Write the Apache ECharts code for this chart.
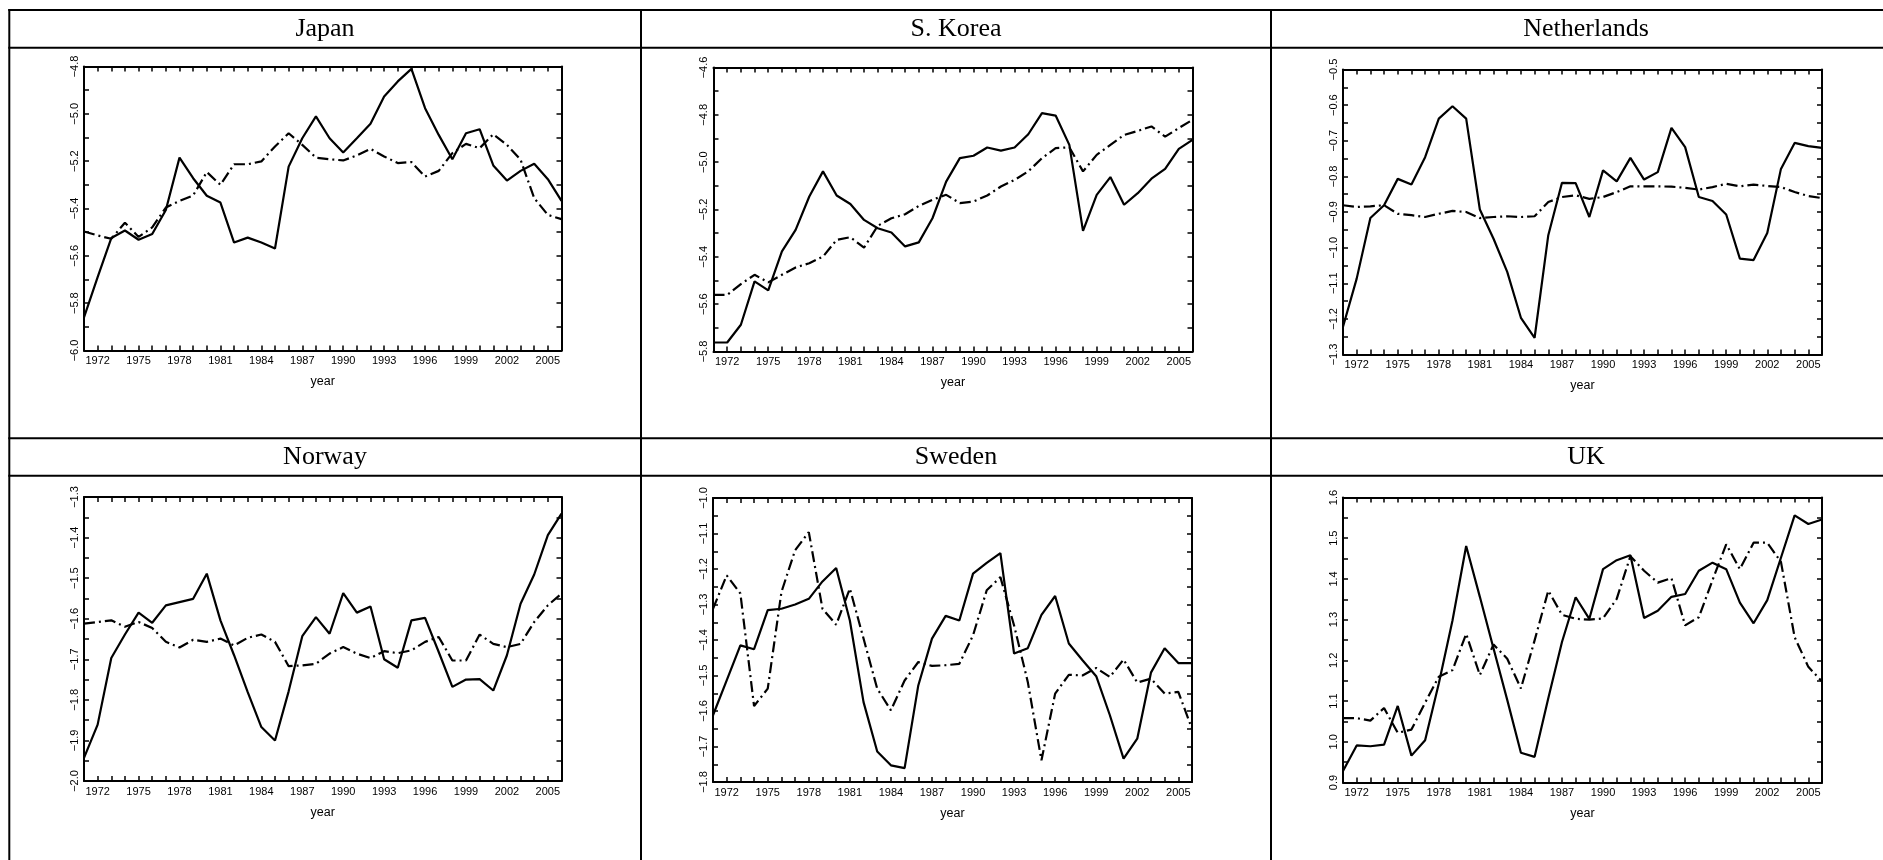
<!DOCTYPE html>
<html>
<head>
<meta charset="utf-8">
<script src="https://cdn.jsdelivr.net/npm/echarts@6/dist/echarts.min.js"></script>
<style>
html,body{margin:0;padding:0;background:#fff;}
#chart{width:1883px;height:860px;}
</style>
</head>
<body>
<div id="chart"></div>
<script>
// ---------- DATA ----------
const years = [1971,1972,1973,1974,1975,1976,1977,1978,1979,1980,1981,1982,1983,1984,1985,1986,1987,1988,1989,1990,1991,1992,1993,1994,1995,1996,1997,1998,1999,2000,2001,2002,2003,2004,2005,2006];
const xTickLabels = [1972,1975,1978,1981,1984,1987,1990,1993,1996,1999,2002,2005];
const panelTitles = ["Japan","S. Korea","Netherlands","Norway","Sweden","UK"];

const japanSolid = [-5.86,-5.69,-5.525,-5.493,-5.532,-5.508,-5.406,-5.185,-5.272,-5.346,-5.375,-5.544,-5.523,-5.544,-5.569,-5.223,-5.103,-5.011,-5.103,-5.163,-5.103,-5.042,-4.927,-4.863,-4.81,-4.976,-5.089,-5.192,-5.082,-5.065,-5.218,-5.282,-5.241,-5.211,-5.276,-5.368];
const japanDash  = [-5.497,-5.514,-5.528,-5.46,-5.52,-5.48,-5.396,-5.368,-5.345,-5.246,-5.30,-5.213,-5.213,-5.201,-5.138,-5.082,-5.131,-5.185,-5.192,-5.197,-5.176,-5.148,-5.18,-5.208,-5.204,-5.265,-5.241,-5.166,-5.127,-5.145,-5.086,-5.131,-5.194,-5.356,-5.427,-5.445];

const koreaSolid = [-5.762,-5.762,-5.687,-5.504,-5.542,-5.377,-5.286,-5.145,-5.039,-5.141,-5.177,-5.244,-5.279,-5.297,-5.356,-5.339,-5.237,-5.082,-4.983,-4.973,-4.938,-4.951,-4.938,-4.882,-4.793,-4.803,-4.927,-5.29,-5.138,-5.063,-5.18,-5.131,-5.07,-5.028,-4.944,-4.906];
const koreaDash  = [-5.561,-5.561,-5.515,-5.476,-5.508,-5.476,-5.445,-5.427,-5.399,-5.328,-5.317,-5.361,-5.269,-5.237,-5.22,-5.185,-5.159,-5.138,-5.173,-5.166,-5.141,-5.103,-5.075,-5.039,-4.983,-4.941,-4.937,-5.039,-4.969,-4.927,-4.885,-4.868,-4.849,-4.892,-4.856,-4.821];

const nethSolid = [-1.222,-1.087,-0.917,-0.881,-0.807,-0.823,-0.746,-0.638,-0.603,-0.638,-0.893,-0.975,-1.068,-1.197,-1.253,-0.965,-0.818,-0.819,-0.914,-0.783,-0.814,-0.748,-0.809,-0.788,-0.664,-0.718,-0.858,-0.869,-0.907,-1.031,-1.035,-0.959,-0.779,-0.706,-0.715,-0.72];
const nethDash  = [-0.881,-0.886,-0.884,-0.881,-0.905,-0.909,-0.914,-0.905,-0.897,-0.9,-0.917,-0.914,-0.912,-0.914,-0.912,-0.872,-0.858,-0.853,-0.863,-0.858,-0.844,-0.828,-0.828,-0.828,-0.829,-0.832,-0.837,-0.83,-0.821,-0.828,-0.823,-0.827,-0.83,-0.844,-0.855,-0.861];

const norwaySolid = [-1.943,-1.861,-1.697,-1.639,-1.585,-1.61,-1.567,-1.559,-1.551,-1.489,-1.604,-1.69,-1.781,-1.867,-1.9,-1.779,-1.643,-1.596,-1.637,-1.537,-1.585,-1.57,-1.70,-1.721,-1.604,-1.598,-1.682,-1.768,-1.75,-1.749,-1.777,-1.69,-1.563,-1.491,-1.394,-1.341];
const norwayDash  = [-1.612,-1.608,-1.604,-1.62,-1.608,-1.623,-1.657,-1.671,-1.652,-1.657,-1.649,-1.666,-1.647,-1.639,-1.657,-1.717,-1.715,-1.711,-1.686,-1.67,-1.686,-1.697,-1.68,-1.685,-1.678,-1.657,-1.645,-1.703,-1.703,-1.639,-1.662,-1.67,-1.662,-1.608,-1.567,-1.538];

const swedenSolid = [-1.612,-1.514,-1.415,-1.426,-1.316,-1.312,-1.30,-1.284,-1.235,-1.197,-1.345,-1.575,-1.714,-1.753,-1.761,-1.528,-1.396,-1.332,-1.345,-1.213,-1.183,-1.155,-1.438,-1.423,-1.329,-1.276,-1.41,-1.457,-1.502,-1.612,-1.734,-1.678,-1.492,-1.423,-1.465,-1.465];
const swedenDash  = [-1.312,-1.218,-1.269,-1.586,-1.537,-1.265,-1.147,-1.096,-1.312,-1.357,-1.255,-1.396,-1.537,-1.598,-1.514,-1.462,-1.473,-1.471,-1.467,-1.387,-1.26,-1.223,-1.359,-1.518,-1.739,-1.551,-1.498,-1.50,-1.479,-1.504,-1.455,-1.52,-1.509,-1.551,-1.546,-1.65];

const ukSolid = [0.928,0.991,0.989,0.993,1.088,0.966,1.004,1.143,1.298,1.481,1.356,1.229,1.103,0.973,0.963,1.107,1.245,1.355,1.302,1.424,1.446,1.458,1.304,1.322,1.356,1.363,1.42,1.44,1.424,1.342,1.291,1.348,1.452,1.556,1.535,1.546];
const ukDash  = [1.058,1.058,1.052,1.083,1.022,1.03,1.096,1.16,1.176,1.265,1.164,1.239,1.204,1.131,1.249,1.371,1.312,1.302,1.30,1.303,1.351,1.456,1.42,1.391,1.402,1.286,1.306,1.397,1.485,1.424,1.489,1.489,1.442,1.257,1.184,1.148];

// y-axis ranges: [min, max, tick step, label step]
const yRanges = [
  [-6.0,-4.8,0.1,0.2],
  [-5.8,-4.6,0.1,0.2],
  [-1.3,-0.5,0.05,0.1],
  [-2.0,-1.3,0.05,0.1],
  [-1.8,-1.0,0.05,0.1],
  [0.9,1.6,0.05,0.1]
];
const solidSeries = [japanSolid, koreaSolid, nethSolid, norwaySolid, swedenSolid, ukSolid];
const dashSeries  = [japanDash, koreaDash, nethDash, norwayDash, swedenDash, ukDash];

// ---------- LAYOUT ----------
const grids = [
  {left:84,   top:66.5, width:477.5, height:284},
  {left:713.5,top:67.5, width:479,   height:284},
  {left:1343, top:69.5, width:479,   height:285},
  {left:84,   top:497,  width:477.5, height:284},
  {left:713,  top:498,  width:479,   height:284},
  {left:1343, top:497.5,width:479,   height:285}
];
const titlePos = [[325,29],[956,29],[1586,29],[325,457],[956,457],[1586,457]];

const LABEL_FONT = '"Liberation Sans", Arial, sans-serif';
const xAxes = [], yAxes = [], series = [];
const axisLineStyle = {show:true, lineStyle:{color:'#000', width:2}};
const tickStyle = {show:true, inside:true, length:5, lineStyle:{color:'#000', width:1.5}};

grids.forEach((g, i) => {
  const r = yRanges[i];
  const k = Math.round(1 / r[2]);
  const lk = Math.round(r[3] / r[2]);
  xAxes.push({
    type:'value', gridIndex:i, position:'bottom', min:1971, max:2006, interval:1,
    axisLine:axisLineStyle, axisTick:tickStyle, splitLine:{show:false},
    name:'year', nameLocation:'middle', nameGap:25,
    nameTextStyle:{color:'#000', fontFamily:LABEL_FONT, fontSize:12.5},
    axisLabel:{color:'#000', fontFamily:LABEL_FONT, fontSize:11, margin:5,
      formatter: v => xTickLabels.indexOf(Math.round(v)) >= 0 ? String(Math.round(v)) : ''}
  });
  xAxes.push({
    type:'value', gridIndex:i, position:'top', min:1971, max:2006, interval:1,
    axisLine:axisLineStyle, axisTick:tickStyle, splitLine:{show:false}, axisLabel:{show:false}
  });
  yAxes.push({
    type:'value', gridIndex:i, position:'left', min:r[0], max:r[1], interval:r[2],
    axisLine:axisLineStyle, axisTick:tickStyle, splitLine:{show:false},
    axisLabel:{color:'#000', fontFamily:LABEL_FONT, fontSize:11, rotate:90, margin:4,
      formatter: v => {
        const n = Math.round(v * k);
        if (Math.abs(n) % lk !== 0) return '';
        return v.toFixed(1).replace('-', '\u2212');
      }}
  });
  yAxes.push({
    type:'value', gridIndex:i, position:'right', min:r[0], max:r[1], interval:r[2],
    axisLine:axisLineStyle, axisTick:tickStyle, splitLine:{show:false}, axisLabel:{show:false}
  });
  series.push({
    type:'line', xAxisIndex:2*i, yAxisIndex:2*i, showSymbol:false, symbol:'none',
    data: years.map((y, j) => [y, dashSeries[i][j]]),
    lineStyle:{color:'#000', width:2.2, type:[11,4,2,4]}, silent:true, z:3
  });
  series.push({
    type:'line', xAxisIndex:2*i, yAxisIndex:2*i, showSymbol:false, symbol:'none',
    data: years.map((y, j) => [y, solidSeries[i][j]]),
    lineStyle:{color:'#000', width:2.2, type:'solid'}, silent:true, z:4
  });
});

const graphic = [];
const hLines = [10, 47.7, 438.3, 475.7];
hLines.forEach(y => graphic.push({type:'line', shape:{x1:8.3, y1:y, x2:1883, y2:y}, style:{stroke:'#000', lineWidth:2}}));
const vLines = [9.3, 641, 1271];
vLines.forEach(x => graphic.push({type:'line', shape:{x1:x, y1:9, x2:x, y2:860}, style:{stroke:'#000', lineWidth:2}}));
panelTitles.forEach((t, i) => graphic.push({
  type:'text', x:titlePos[i][0], y:titlePos[i][1],
  style:{text:t, fill:'#000', font:'26px "Liberation Serif", "Times New Roman", serif', textAlign:'center', textVerticalAlign:'middle'}
}));

const chart = echarts.init(document.getElementById('chart'), null, {renderer:'canvas'});
chart.setOption({
  animation:false,
  backgroundColor:'#fff',
  grid: grids.map(g => Object.assign({containLabel:false}, g)),
  xAxis: xAxes,
  yAxis: yAxes,
  series: series,
  graphic: graphic
});
</script>
</body>
</html>
